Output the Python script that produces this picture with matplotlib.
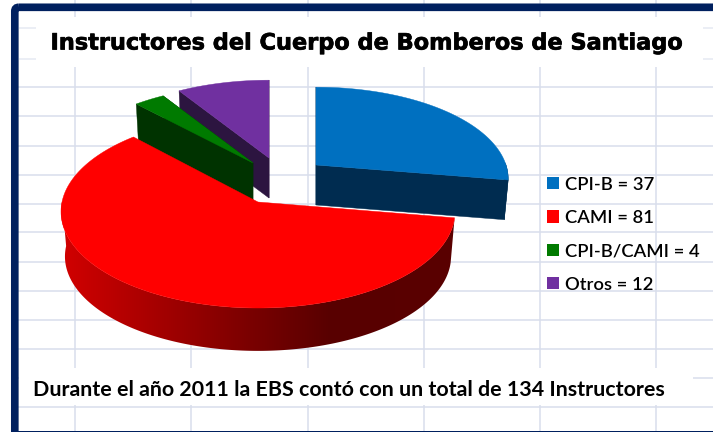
import numpy as np
import matplotlib
matplotlib.use("Agg")
import matplotlib.pyplot as plt
import matplotlib.patheffects as pe
from matplotlib.patches import FancyBboxPatch, Patch, Polygon, Rectangle

title = "Instructores del Cuerpo de Bomberos de Santiago"
footer = "Durante el año 2011 la EBS contó con un total de 134 Instructores"
names = ["CPI-B", "CAMI", "CPI-B/CAMI", "Otros"]
values = [37, 81, 4, 12]
top_colors = ["#0070c0", "#ff0000", "#007a00", "#7030a0"]
side_colors = ["#002c50", None, "#003300", "#2c1540"]

# sheet gridlines behind the picture
grid_x = [75, 191, 308, 424, 540, 656]
grid_y = [87, 116, 146, 175, 204, 232, 262, 291, 320, 349, 378, 407]
stub_y = [28, 59]

# layout of the fake 3d pie, in pixels
apex = {"CPI-B": (316, 165), "CAMI": (258, 202), "CPI-B/CAMI": (253, 163), "Otros": (269, 158)}
radius = {"CPI-B": 190, "CAMI": 196, "CPI-B/CAMI": 190, "Otros": 190}
minor = {"CPI-B": 89.5, "CAMI": 95.4, "CPI-B/CAMI": 89.5, "Otros": 89.5}
persp = {"CPI-B": 0.15, "CAMI": 0.10, "CPI-B/CAMI": 0.15, "Otros": 0.15}
drop = {"CPI-B": 40, "CAMI": 45, "CPI-B/CAMI": 40, "Otros": 40}
draw_order = ["Otros", "CPI-B", "CPI-B/CAMI", "CAMI"]
shrink = 0.98


def project(theta, name, dz=0):
    # circle on a tilted plane, back of the pie comes out squashed
    cx, cy = apex[name]
    t = np.radians(theta)
    w = 1 + persp[name] * np.sin(t)
    s = shrink if dz else 1.0
    x = cx + s * radius[name] * np.cos(t) / w
    y = cy - s * minor[name] * np.sin(t) / w + dz
    return np.column_stack([x, y])


fig = plt.figure(figsize=(7.13, 4.32), dpi=100, facecolor="white")
ax = fig.add_axes([0, 0, 1, 1])

ax.vlines(grid_x, 0, 432, color="#d9deec", lw=1.1, zorder=1)
ax.hlines(grid_y, 12, 713, color="#d9deec", lw=1.1, zorder=1)
ax.add_patch(Rectangle((36, 17), 667, 50, fc="white", ec="none", zorder=2))
ax.add_patch(Rectangle((19, 368), 674, 37, fc="white", ec="none", zorder=2))
ax.hlines(stub_y, 19, 36, color="#e6e9f2", lw=1.1, zorder=2)
ax.hlines(stub_y, 703, 713, color="#e6e9f2", lw=1.1, zorder=2)

# slices run clockwise from twelve o'clock
sweep = np.array(values) / sum(values) * 360
starts = 90 - np.concatenate([[0], np.cumsum(sweep)[:-1]])
z = 3
for name in draw_order:
    i = names.index(name)
    cx, cy = apex[name]
    dz = drop[name]
    angles = np.linspace(starts[i], starts[i] - sweep[i], 240)
    upper = project(angles, name)
    lower = project(angles, name, dz)
    front = np.sin(np.radians(angles)) < 0.02
    rim = np.vstack([upper[front], lower[front][::-1]])
    side = side_colors[i]
    if side is not None:
        for k in [0, -1]:
            ax.add_patch(Polygon([(cx, cy), upper[k], lower[k], (cx, cy + dz)], fc=side, ec=side, lw=0.3, zorder=z))
        ax.add_patch(Polygon(rim, fc=side, ec=side, lw=0.3, zorder=z))
    else:
        # the red rim darkens from left to right
        shade = np.interp(np.arange(713), [65, 250, 330, 460], [208, 122, 88, 90]) / 255
        ramp = np.zeros((1, 713, 3))
        ramp[0, :, 0] = shade
        clip = Polygon(rim, fc="none", ec="none", transform=ax.transData)
        ax.add_patch(clip)
        im = ax.imshow(ramp, extent=(0, 713, 432, 0), aspect="auto", zorder=z, interpolation="bilinear")
        im.set_clip_path(clip)
    ax.add_patch(Polygon(np.vstack([[cx, cy], upper]), fc=top_colors[i], ec=top_colors[i], lw=0.3, zorder=z + 0.5))
    z += 1

# navy frame, runs off the right and bottom sides
ax.add_patch(FancyBboxPatch((17, 9.5), 800, 460, boxstyle="round,pad=2.2,rounding_size=4", fc="none",
                            ec="#00205f", lw=5.5, zorder=10))
ax.add_patch(Rectangle((11, 431), 702, 1, fc="#00205f", ec="none", zorder=10))

ax.text(365.5, 43.5, title, ha="center", va="center", fontsize=16.15, fontweight="bold",
        family="DejaVu Sans", color="black", zorder=11,
        path_effects=[pe.withStroke(linewidth=0.5, foreground="black")])
ax.text(33, 390, footer, ha="left", va="center", fontsize=15.4, fontweight="bold",
        family="Lato", color="black", zorder=11)

handles = [Patch(fc=c, ec="none") for c in top_colors]
labels = [f"{n} = {v}" for n, v in zip(names, values)]
ax.legend(handles, labels, loc="upper left", bbox_to_anchor=(547, 176.5), bbox_transform=ax.transData,
          frameon=False, handlelength=0.65, handleheight=0.65, handletextpad=0.33, borderpad=0,
          borderaxespad=0, labelspacing=0.95,
          prop={"family": "Lato", "weight": "semibold", "size": 13.2}).set_zorder(11)

ax.set_xlim(0, 713)
ax.set_ylim(432, 0)
ax.axis("off")
fig.savefig("out.png", dpi=100)
